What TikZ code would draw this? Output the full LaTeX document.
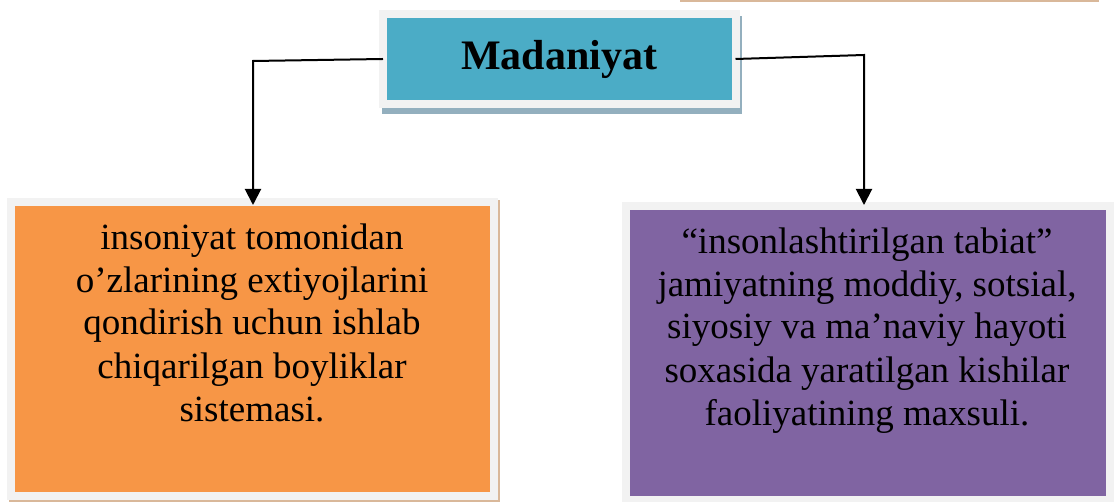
\documentclass[tikz,border=0pt]{standalone}
\usepackage{fontspec}
\setmainfont{Liberation Serif}
\usetikzlibrary{arrows.meta}
\definecolor{tblue}{HTML}{4BACC6}
\definecolor{tgrey}{HTML}{F2F2F2}
\definecolor{torange}{HTML}{F79646}
\definecolor{tpurple}{HTML}{8064A2}
\definecolor{tshadow}{HTML}{93AFBE}
\definecolor{ttan}{HTML}{D9B89A}
\tikzset{
  boxbase/.style={rectangle, draw=tgrey, line width=8pt, inner sep=0pt, outer sep=0pt},
  bodytext/.style={align=center, anchor=base, font=\fontsize{37}{43}\selectfont, inner sep=0pt},
  conn/.style={line width=2pt, -{Triangle[width=16pt,length=16pt]}}
}
\begin{document}
\begin{tikzpicture}[x=1pt,y=-1pt]
\useasboundingbox (0,0) rectangle (1114,502);
% cut-off box edge at top right
\draw[ttan, line width=2.5pt] (680,0.8) -- (1099,0.8);
% shadows
\fill[tshadow] (382,16) rectangle (742,114);
\fill[ttan] (9,200) rectangle (500,502);
% boxes
\node[boxbase, fill=tblue, minimum width=352.5pt, minimum height=90.5pt,
      font=\fontsize{42}{48}\bfseries\selectfont] (mad) at (559.25,59) {Madaniyat};
\node[boxbase, fill=torange, minimum width=483pt, minimum height=294pt] (lbox) at (252.5,349) {};
\node[boxbase, fill=tpurple, minimum width=484pt, minimum height=294pt] (rbox) at (868,353) {};
% texts
\node[bodytext] (ltext) at (252,421) {insoniyat tomonidan\\o’zlarining extiyojlarini\\qondirish uchun ishlab\\chiqarilgan boyliklar\\sistemasi.};
\node[bodytext] (rtext) at (867,425) {“insonlashtirilgan tabiat”\\jamiyatning moddiy, sotsial,\\siyosiy va ma’naviy hayoti\\soxasida yaratilgan kishilar\\faoliyatining maxsuli.};
% connectors
\coordinate (cl) at (253,61);
\coordinate (cr) at (864,55);
\draw[conn] (mad.west) -- (cl) -- ([yshift=-3pt]cl |- lbox.north);
\draw[conn] (mad.east) -- (cr) -- ([yshift=1pt]cr |- rbox.north);
\end{tikzpicture}
\end{document}
